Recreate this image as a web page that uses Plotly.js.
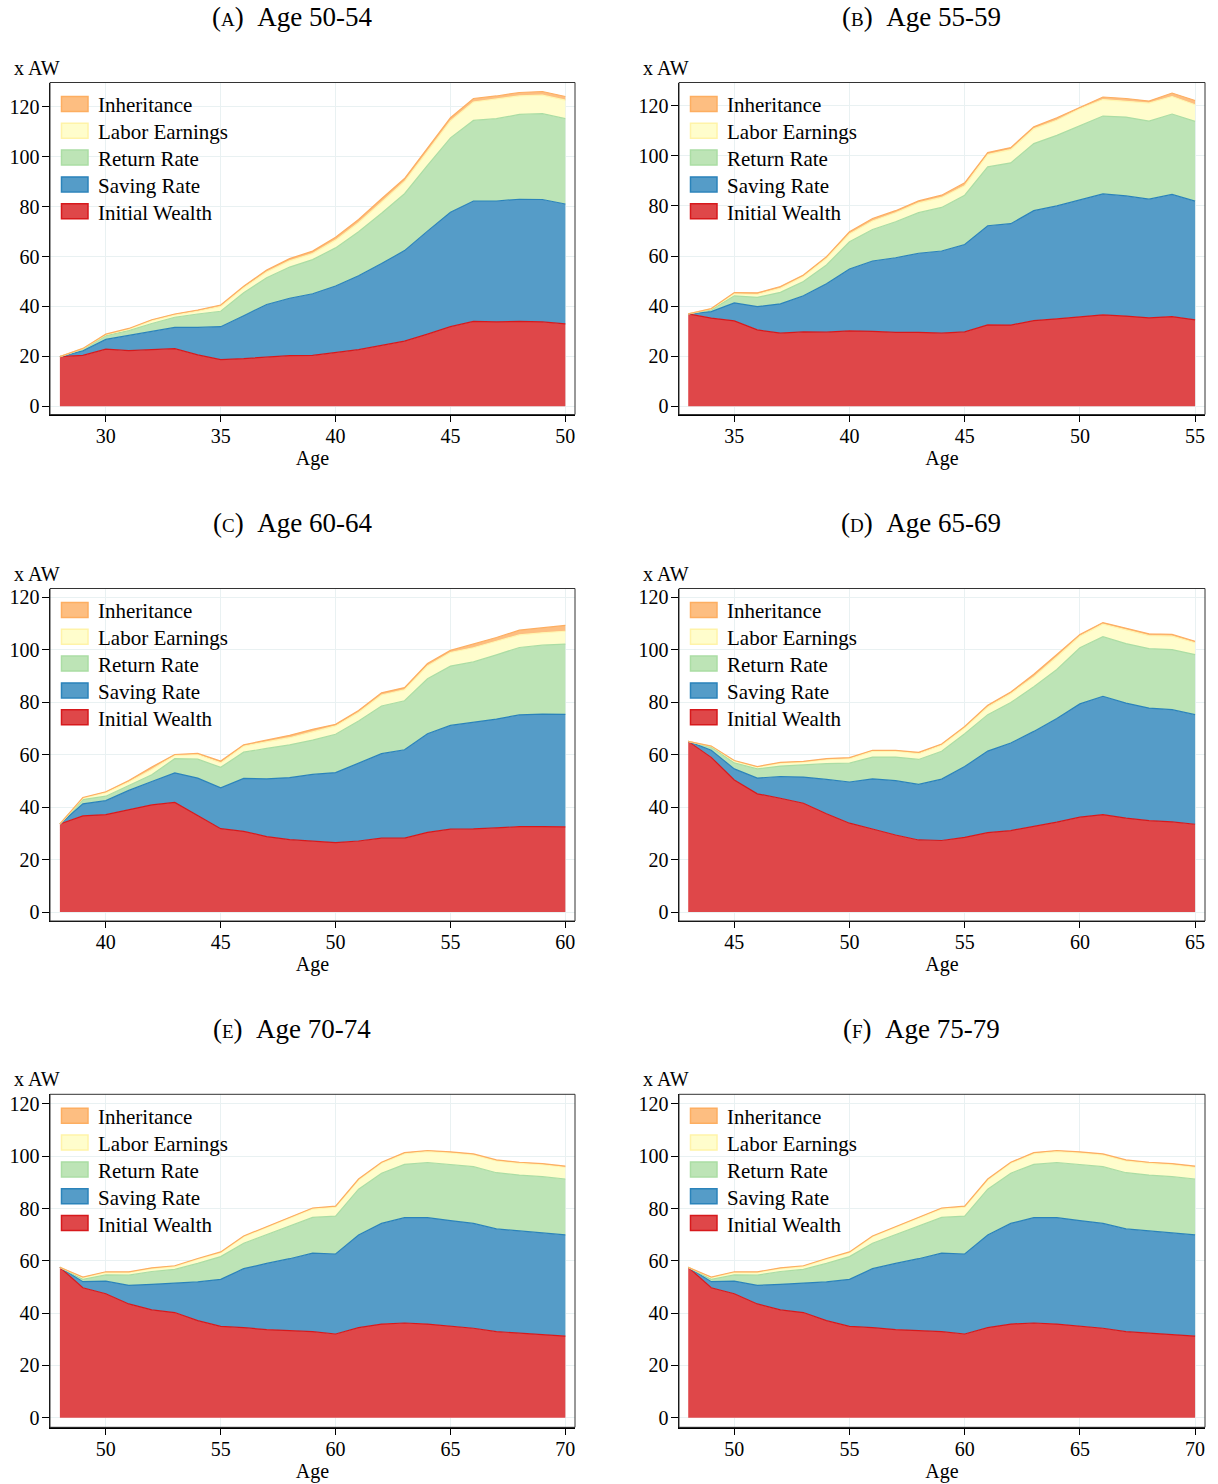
<!DOCTYPE html>
<html><head><meta charset="utf-8">
<script src="https://cdn.plot.ly/plotly-3.0.1.min.js"></script>
<style>html,body{margin:0;padding:0;background:#fff}</style>
</head><body><div id="chart" style="width:1218px;height:1484px"></div>
<script>
// ---------------- DATA (x AW, by age) ----------------
const ages_A = [28,29,30,31,32,33,34,35,36,37,38,39,40,41,42,43,44,45,46,47,48,49,50];
const iw_A  = [19.9,20.4,22.9,22.3,22.7,23.1,20.6,18.7,19.1,19.8,20.3,20.4,21.4,22.7,24.4,26.1,28.9,31.9,34.0,33.8,34.0,33.8,33.0];
const sr_A  = [0,1.8,3.9,6.0,7.3,8.5,11.0,13.2,17.2,21.0,23.0,24.7,26.8,29.6,32.8,36.3,41.3,45.9,48.3,48.5,49.0,49.1,48.1];
const rr_A  = [0,0.7,1.5,2.0,3.2,4.1,5.4,6.2,9.2,10.7,12.5,13.7,15.3,17.7,20.2,22.8,26.4,29.8,32.3,33.0,34.0,34.4,34.2];
const le_A  = [0,0.2,0.4,0.6,1.1,0.9,1.1,1.9,2.0,2.3,2.5,2.4,3.1,3.6,4.4,4.9,5.6,6.8,7.4,7.8,7.4,7.4,7.4];
const inh_A = [0,0.1,0.2,0.3,0.4,0.4,0.5,0.6,0.6,0.8,0.9,1.0,1.2,1.3,1.4,1.2,1.3,1.3,1.4,1.3,1.4,1.5,1.5];

const ages_B = [33,34,35,36,37,38,39,40,41,42,43,44,45,46,47,48,49,50,51,52,53,54,55];
const iw_B  = [36.9,35.2,34.1,30.5,29.2,29.7,29.6,30.1,29.9,29.5,29.5,29.2,29.7,32.5,32.4,34.2,34.9,35.7,36.5,36.0,35.3,35.8,34.5];
const sr_B  = [0,2.6,7.2,9.3,11.7,14.4,19.3,24.7,28.1,29.8,31.6,32.8,34.9,39.6,40.5,43.9,45.1,46.6,48.3,48.0,47.4,48.8,47.4];
const rr_B  = [0,0.7,2.8,3.7,4.6,5.7,7.5,10.9,12.6,14.4,16.2,17.4,19.7,23.5,24.3,26.8,28.2,29.9,31.1,31.5,31.2,32.1,31.9];
const le_B  = [0,0.4,0.8,1.2,1.6,2.0,2.7,3.1,3.4,3.6,3.9,4.0,3.8,4.9,5.3,5.9,6.0,6.6,6.6,6.4,7.2,7.0,6.6];
const inh_B = [0,0.1,0.5,0.6,0.7,0.6,0.6,0.9,1.0,0.8,0.8,0.9,1.1,0.8,0.8,0.8,1.0,0.7,1.0,1.0,0.8,1.4,1.7];

const ages_C = [38,39,40,41,42,43,44,45,46,47,48,49,50,51,52,53,54,55,56,57,58,59,60];
const iw_C  = [33.6,36.7,37.2,39.0,40.9,41.8,36.8,31.8,30.8,28.8,27.6,27.0,26.5,27.1,28.2,28.2,30.4,31.6,31.7,32.1,32.6,32.6,32.5];
const sr_C  = [0,4.6,5.3,7.4,8.9,11.3,14.3,15.6,20.2,22.0,23.7,25.5,26.7,29.7,32.2,33.7,37.6,39.6,40.7,41.5,42.6,42.9,42.9];
const rr_C  = [0,1.6,1.7,1.8,2.6,5.4,7.2,7.8,10.0,11.6,12.5,13.1,14.6,16.1,18.2,18.7,21.0,22.6,23.0,24.5,25.7,26.3,26.8];
const le_C  = [0,0.5,1.3,1.4,2.0,1.2,1.8,1.7,2.3,2.5,2.7,3.1,3.2,3.2,4.2,4.2,4.9,5.2,5.4,5.2,4.8,4.7,4.9];
const inh_C = [0,0.3,0.4,0.6,0.9,0.4,0.4,0.7,0.5,0.6,0.9,1.0,0.6,0.8,0.8,0.8,0.9,0.8,1.4,1.4,1.8,2.0,2.2];

const ages_D = [43,44,45,46,47,48,49,50,51,52,53,54,55,56,57,58,59,60,61,62,63,64,65];
const iw_D  = [65.1,59.0,50.4,45.1,43.4,41.5,37.5,33.9,31.7,29.4,27.5,27.3,28.5,30.3,31.1,32.6,34.3,36.2,37.2,35.8,34.9,34.4,33.5];
const sr_D  = [0,2.7,4.2,6.0,8.3,10.0,13.1,15.7,19.1,20.7,21.2,23.4,27.0,31.1,33.4,36.3,39.5,43.2,45.1,43.9,42.9,42.8,41.8];
const rr_D  = [0,1.2,2.3,3.5,4.0,4.7,6.0,7.2,8.3,9.0,9.5,10.6,12.5,13.9,15.4,17.0,18.7,21.4,22.7,22.7,22.7,22.9,22.9];
const le_D  = [0,0.3,0.7,0.7,1.1,1.0,1.5,1.7,2.2,2.3,2.2,2.3,2.3,2.9,3.4,3.8,4.8,4.4,4.8,5.1,4.9,5.1,4.5];
const inh_D = [0,0.1,0.2,0.2,0.3,0.3,0.4,0.4,0.4,0.3,0.5,0.5,0.5,0.7,0.6,1.0,0.9,0.7,0.6,0.7,0.7,0.7,0.6];

const ages_E = [48,49,50,51,52,53,54,55,56,57,58,59,60,61,62,63,64,65,66,67,68,69,70];
const iw_E  = [57.5,49.7,47.4,43.5,41.2,40.2,37.1,34.9,34.4,33.7,33.3,32.9,32.0,34.4,35.8,36.2,35.8,35.1,34.2,32.9,32.3,31.9,31.2];
const sr_E  = [0,2.3,4.8,7.1,9.8,11.2,14.8,18.0,22.6,25.3,27.5,30.0,30.6,35.5,38.5,40.3,40.7,40.3,40.1,39.3,39.1,38.9,38.7];
const rr_E  = [0,0.9,2.4,3.9,4.9,5.3,7.1,8.7,9.7,10.9,12.5,13.7,14.5,17.5,19.2,20.4,21.1,21.5,21.7,21.5,21.4,21.4,21.4];
const le_E  = [0,0.7,0.9,1.0,1.1,1.1,1.6,1.5,2.5,2.8,2.9,3.2,3.4,3.5,3.8,4.1,4.2,4.4,4.5,4.5,4.5,4.6,4.5];
const inh_E = [0,0.2,0.3,0.3,0.3,0.3,0.3,0.3,0.3,0.3,0.3,0.4,0.4,0.4,0.4,0.4,0.4,0.4,0.4,0.4,0.4,0.4,0.4];

const ages_F = [48,49,50,51,52,53,54,55,56,57,58,59,60,61,62,63,64,65,66,67,68,69,70];
const iw_F  = [57.5,49.7,47.4,43.5,41.2,40.2,37.1,34.9,34.4,33.7,33.3,32.9,32.0,34.4,35.8,36.2,35.8,35.1,34.2,32.9,32.3,31.9,31.2];
const sr_F  = [0,2.3,4.8,7.1,9.8,11.2,14.8,18.0,22.6,25.3,27.5,30.0,30.6,35.5,38.5,40.3,40.7,40.3,40.1,39.3,39.1,38.9,38.7];
const rr_F  = [0,0.9,2.4,3.9,4.9,5.3,7.1,8.7,9.7,10.9,12.5,13.7,14.5,17.5,19.2,20.4,21.1,21.5,21.7,21.5,21.4,21.4,21.4];
const le_F  = [0,0.7,0.9,1.0,1.1,1.1,1.6,1.5,2.5,2.8,2.9,3.2,3.4,3.5,3.8,4.1,4.2,4.4,4.5,4.5,4.5,4.6,4.5];
const inh_F = [0,0.2,0.3,0.3,0.3,0.3,0.3,0.3,0.3,0.3,0.3,0.4,0.4,0.4,0.4,0.4,0.4,0.4,0.4,0.4,0.4,0.4,0.4];

const seriesNames = ['Initial Wealth','Saving Rate','Return Rate','Labor Earnings','Inheritance'];
const panelLetters = ['A','B','C','D','E','F'];
const panelTitles = ['Age 50-54','Age 55-59','Age 60-64','Age 65-69','Age 70-74','Age 75-79'];
const yTickVals = [0,20,40,60,80,100,120];
const yUnitLabel = 'x AW';
const xLabel = 'Age';

// ---------------- STYLE ----------------
const W = 1218, H = 1484;
const FONT = '"Liberation Serif","Times New Roman",serif';
const fillCols = ['rgb(223,71,73)','rgb(85,156,200)','rgb(189,228,182)','rgb(255,253,204)','rgb(253,190,129)'];
const lineCols = ['#d7191c','#2b83ba','#abdda4','#fff6b0','#fdae61'];
const swatchLine = ['#d7191c','#2b83ba','#abdda4','#fff3a8','#fdae61'];
const GRID = 'rgb(233,241,242)';

const panels = [
  {ages:ages_A, comps:[iw_A,sr_A,rr_A,le_A,inh_A], col:0,row:0, xr:[27.57,50.42], yr:[-3.3,129.8]},
  {ages:ages_B, comps:[iw_B,sr_B,rr_B,le_B,inh_B], col:1,row:0, xr:[32.6,55.43], yr:[-3.3,129.3]},
  {ages:ages_C, comps:[iw_C,sr_C,rr_C,le_C,inh_C], col:0,row:1, xr:[37.57,60.42], yr:[-3.4,123.4]},
  {ages:ages_D, comps:[iw_D,sr_D,rr_D,le_D,inh_D], col:1,row:1, xr:[42.6,65.43], yr:[-3.4,123.4]},
  {ages:ages_E, comps:[iw_E,sr_E,rr_E,le_E,inh_E], col:0,row:2, xr:[47.57,70.42], yr:[-3.7,123.7]},
  {ages:ages_F, comps:[iw_F,sr_F,rr_F,le_F,inh_F], col:1,row:2, xr:[47.6,70.43], yr:[-3.7,123.7]},
];
const colPx = [[50,575],[679,1205]];
const rowPx = [[82.5,414.5],[588.5,921],[1094.3,1427.3]];
const px = v => v / W, py = v => 1 - v / H;

const data = [], layout = {
  width: W, height: H, margin:{l:0,r:0,t:0,b:0},
  paper_bgcolor:'#fff', plot_bgcolor:'#fff', showlegend:false,
  font:{family:FONT, color:'#000', size:20},
  shapes:[], annotations:[]
};

panels.forEach((p, i) => {
  const k = i + 1, sx = k === 1 ? '' : String(k);
  const [L, R] = colPx[p.col], [T, B] = rowPx[p.row];
  p.comps.forEach((vals, j) => {
    data.push({
      type:'scatter', mode:'lines', x:p.ages, y:vals, name:seriesNames[j],
      stackgroup:'s'+k, xaxis:'x'+sx, yaxis:'y'+sx,
      line:{color:lineCols[j], width:1.2}, fillcolor:fillCols[j], hoverinfo:'skip'
    });
  });
  layout['xaxis'+sx] = {
    domain:[px(L), px(R)], range:p.xr, anchor:'y'+sx,
    tick0:0, dtick:5, showgrid:true, gridcolor:GRID, gridwidth:1, zeroline:false,
    showline:true, linecolor:'#000', linewidth:1.4,
    ticks:'outside', ticklen:6, tickwidth:1, tickcolor:'#000', ticklabelstandoff:-3,
    tickfont:{family:FONT, size:20, color:'#000'},
    title:{text:xLabel, font:{family:FONT, size:20, color:'#000'}, standoff:0}
  };
  layout['yaxis'+sx] = {
    domain:[py(B), py(T)], range:p.yr, anchor:'x'+sx,
    tickvals:yTickVals, showgrid:true, gridcolor:GRID, gridwidth:1, zeroline:false,
    showline:true, linecolor:'#000', linewidth:1.4,
    ticks:'outside', ticklen:7, tickwidth:1, tickcolor:'#000', ticklabelstandoff:-2,
    tickfont:{family:FONT, size:20, color:'#000'}
  };
  // frame (top/right)
  layout.shapes.push({type:'rect', xref:'x'+sx+' domain', yref:'y'+sx+' domain',
    x0:0, x1:1, y0:0, y1:1, line:{color:'#333', width:1}, layer:'above'});
  // subplot title
  layout.annotations.push({xref:'paper', yref:'paper', x:px(L+242), y:py(T-65.5),
    xanchor:'center', yanchor:'middle', showarrow:false,
    text:'(<span style="font-size:19px">'+panelLetters[i]+'</span>)\u00a0\u00a0'+panelTitles[i],
    font:{family:FONT, size:27, color:'#000'}});
  // unit label
  layout.annotations.push({xref:'paper', yref:'paper', x:px(L-38), y:py(T-15),
    xanchor:'left', yanchor:'middle', showarrow:false, text:yUnitLabel,
    font:{family:FONT, size:20, color:'#000'}});
  // legend (top-down: reversed stacking order)
  for (let j = 0; j < 5; j++) {
    const s = 4 - j, cy = T + 21.5 + 26.8 * j;
    layout.shapes.push({type:'rect', xref:'paper', yref:'paper',
      x0:px(L+11.5), x1:px(L+38), y0:py(cy+7.5), y1:py(cy-7.5),
      fillcolor:fillCols[s], line:{color:swatchLine[s], width:1.5}, layer:'above'});
    layout.annotations.push({xref:'paper', yref:'paper', x:px(L+46), y:py(cy+1.5),
      xanchor:'left', yanchor:'middle', showarrow:false, text:seriesNames[s],
      font:{family:FONT, size:21, color:'#000'}});
  }
});

Plotly.newPlot('chart', data, layout, {staticPlot:true, displayModeBar:false});
</script></body></html>
